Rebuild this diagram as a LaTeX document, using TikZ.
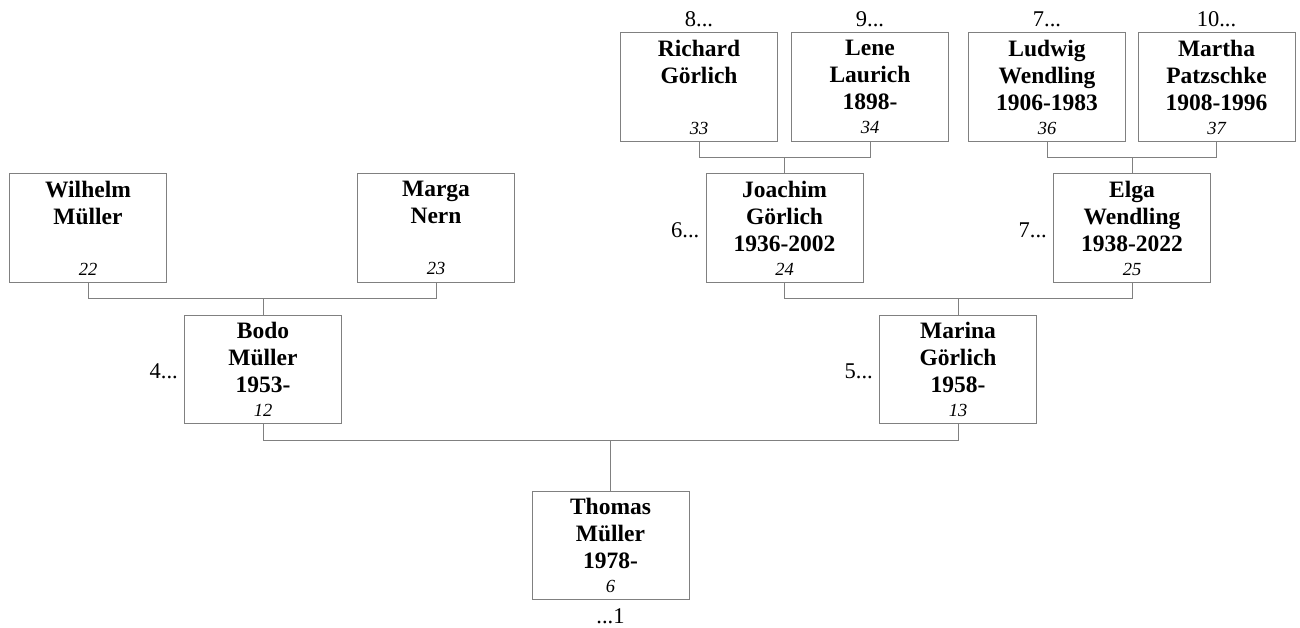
\documentclass[tikz,border=0pt]{standalone}
\usepackage{fontspec}
\setmainfont{Liberation Serif}
\usetikzlibrary{positioning}

\tikzset{
  person/.style={draw=black!50, line width=1pt, minimum width=157pt, minimum height=108.5pt,
    align=center, inner sep=0pt, anchor=north, font=\fontsize{23.5}{27}\selectfont\bfseries},
  gen/.style={font=\fontsize{22.5}{27}\selectfont, inner sep=0pt},
  link/.style={draw=black!50, line width=1pt},
}
% italic number at the foot of each box
\newcommand{\kekule}[1]{\\[-3pt]{\fontsize{18.5}{20}\selectfont\mdseries\itshape #1}}

\begin{document}
\begin{tikzpicture}[x=1pt,y=-1pt]

    % -- Page frame (pixel grid, y pointing down) --
    \useasboundingbox (0,0) rectangle (1300,628);

    % Row tops and the drop below a box to its couple line
    \def\rowa{32.3}
    \def\rowb{173.3}
    \def\rowc{314.6}
    \def\rowd{490.6}
    \def\drop{16}

    % -- Great-grandparents --
    \node[person] (richard) at (699,\rowa)    {Richard\\Görlich\\\mbox{}\kekule{33}};
    \node[person] (lene)    at (870,\rowa)    {Lene\\Laurich\\1898-\kekule{34}};
    \node[person] (ludwig)  at (1047,\rowa)   {Ludwig\\Wendling\\1906-1983\kekule{36}};
    \node[person] (martha)  at (1216.5,\rowa) {Martha\\Patzschke\\1908-1996\kekule{37}};

    % -- Grandparents --
    \node[person] (wilhelm) at (88,\rowb)     {Wilhelm\\Müller\\\mbox{}\kekule{22}};
    \node[person] (marga)   at (436,\rowb)    {Marga\\Nern\\\mbox{}\kekule{23}};
    \node[person] (joachim) at (784.5,\rowb)  {Joachim\\Görlich\\1936-2002\kekule{24}};
    \node[person] (elga)    at (1132,\rowb)   {Elga\\Wendling\\1938-2022\kekule{25}};

    % -- Parents --
    \node[person] (bodo)    at (263,\rowc)    {Bodo\\Müller\\1953-\kekule{12}};
    \node[person] (marina)  at (958,\rowc)    {Marina\\Görlich\\1958-\kekule{13}};

    % -- Proband --
    \node[person] (thomas)  at (610.5,\rowd)  {Thomas\\Müller\\1978-\kekule{6}};

    % -- Generation references --
    \node[gen, above=5pt of richard] (richardgen) {8...};
    \node[gen, above=5pt of lene]    (lenegen)    {9...};
    \node[gen, above=5pt of ludwig]  (ludwiggen)  {7...};
    \node[gen, above=5pt of martha]  (marthagen)  {10...};
    \node[gen, left=6pt of joachim, yshift=-2pt] (joachimgen) {6...};
    \node[gen, left=6pt of elga, yshift=-2pt]    (elgagen)    {7...};
    \node[gen, left=6pt of bodo, yshift=-2pt]    (bodogen)    {4...};
    \node[gen, left=6pt of marina, yshift=-2pt]  (marinagen)  {5...};
    \node[gen, below=8pt of thomas] (thomasgen) {...1};

    % -- Couple lines and the line down to the child --
    \draw[link] (richard.south) -- ++(0,\drop) coordinate (joachimup) -| (lene.south);
    \draw[link] (joachim.north) -- (joachim.north |- joachimup);
    \draw[link] (ludwig.south) -- ++(0,\drop) coordinate (elgaup) -| (martha.south);
    \draw[link] (elga.north) -- (elga.north |- elgaup);
    \draw[link] (wilhelm.south) -- ++(0,\drop) coordinate (bodoup) -| (marga.south);
    \draw[link] (bodo.north) -- (bodo.north |- bodoup);
    \draw[link] (joachim.south) -- ++(0,\drop) coordinate (marinaup) -| (elga.south);
    \draw[link] (marina.north) -- (marina.north |- marinaup);
    \draw[link] (bodo.south) -- ++(0,\drop) coordinate (thomasup) -| (marina.south);
    \draw[link] (thomas.north) -- (thomas.north |- thomasup);

\end{tikzpicture}
\end{document}
